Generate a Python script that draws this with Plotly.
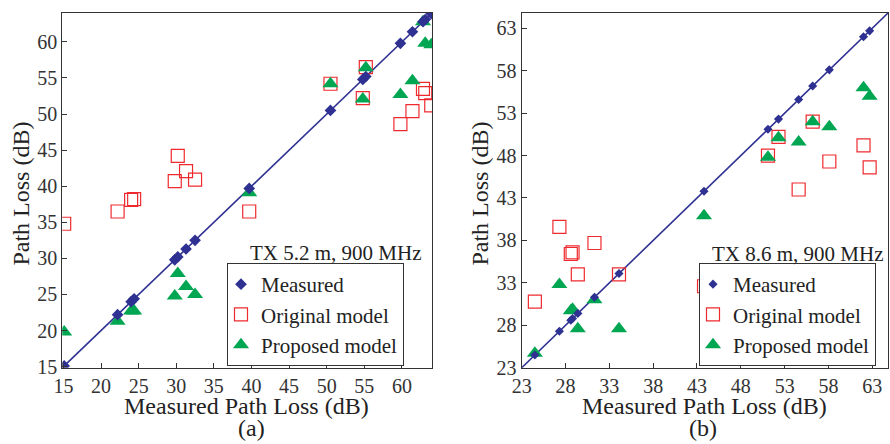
import plotly.graph_objects as go

# ---------------- Data: panel (a) TX 5.2 m ----------------
a_measured = [15.1, 22.2, 24.0, 24.4, 29.8, 30.2, 31.3, 32.5, 39.7, 50.5,
              54.8, 55.2, 59.8, 61.4, 62.8, 63.1, 63.9]
a_original = [34.8, 36.5, 38.1, 38.2, 40.7, 44.2, 42.1, 40.9, 36.5, 54.2,
              52.2, 56.5, 48.6, 50.4, 53.5, 52.9, 51.2]
a_proposed = [19.8, 21.3, 22.7, 22.7, 24.8, 27.9, 26.1, 25.0, 39.1, 54.2,
              52.1, 56.4, 52.7, 54.6, 62.8, 59.8, 59.6]

# ---------------- Data: panel (b) TX 8.6 m ----------------
b_measured = [24.5, 27.3, 28.6, 28.8, 29.4, 31.3, 34.1, 43.8, 51.1, 52.3,
              54.6, 56.2, 58.1, 62.0, 62.7]
b_original = [30.8, 39.6, 36.4, 36.6, 34.0, 37.7, 34.0, 32.6, 48.0, 50.2,
              44.0, 52.0, 47.3, 49.2, 46.6]
b_proposed = [24.7, 32.8, 29.7, 29.9, 27.6, 31.0, 27.6, 40.9, 47.8, 50.1,
              49.6, 52.0, 51.4, 56.0, 55.0]

a_ticks = [15, 20, 25, 30, 35, 40, 45, 50, 55, 60]
b_ticks = [23, 28, 33, 38, 43, 48, 53, 58, 63]
a_range = [14.85, 64.0]
b_range = [23.0, 64.8]

BLUE = "#2e3192"
RED = "#ee2a2e"
GREEN = "#00a651"
FONT = "'Liberation Serif', 'DejaVu Serif', serif"

fig = go.Figure()

# Panel (a)
fig.add_trace(go.Scatter(x=a_measured, y=a_measured, mode="lines",
                         line=dict(color=BLUE, width=1.6), showlegend=False,
                         xaxis="x", yaxis="y", hoverinfo="skip"))
fig.add_trace(go.Scatter(x=a_measured, y=a_original, mode="markers", name="Original model",
                         marker=dict(symbol="square-open", size=13, color=RED, line=dict(width=1.2)),
                         xaxis="x", yaxis="y", legend="legend", legendrank=2))
fig.add_trace(go.Scatter(x=a_measured, y=a_proposed, mode="markers", name="Proposed model",
                         marker=dict(symbol="triangle-up", size=14, color=GREEN),
                         xaxis="x", yaxis="y", legend="legend", legendrank=3))
fig.add_trace(go.Scatter(x=a_measured, y=a_measured, mode="markers", name="Measured",
                         marker=dict(symbol="diamond", size=9, color=BLUE),
                         xaxis="x", yaxis="y", legend="legend", legendrank=1))

# Panel (b)
fig.add_trace(go.Scatter(x=b_range, y=b_range, mode="lines",
                         line=dict(color=BLUE, width=1.6), showlegend=False,
                         xaxis="x2", yaxis="y2", hoverinfo="skip"))
fig.add_trace(go.Scatter(x=b_measured, y=b_original, mode="markers", name="Original model",
                         marker=dict(symbol="square-open", size=13, color=RED, line=dict(width=1.2)),
                         xaxis="x2", yaxis="y2", legend="legend2", legendrank=2))
fig.add_trace(go.Scatter(x=b_measured, y=b_proposed, mode="markers", name="Proposed model",
                         marker=dict(symbol="triangle-up", size=14, color=GREEN),
                         xaxis="x2", yaxis="y2", legend="legend2", legendrank=3))
fig.add_trace(go.Scatter(x=b_measured, y=b_measured, mode="markers", name="Measured",
                         marker=dict(symbol="diamond", size=7, color=BLUE),
                         xaxis="x2", yaxis="y2", legend="legend2", legendrank=1))

axis_common = dict(showgrid=False, zeroline=False, showline=True, linecolor="#333",
                   linewidth=1.2, mirror=True, ticks="inside", ticklen=5, automargin=False,
                   tickcolor="#333", tickfont=dict(family=FONT, size=20, color="#333"))

ydom = [0.1718, 0.9707]
legend_common = dict(bgcolor="white", bordercolor="#333", borderwidth=1,
                     font=dict(family=FONT, size=21, color="#222"),
                     xanchor="left", yanchor="top", itemwidth=30, tracegroupgap=0,
                     traceorder="normal", indentation=-7)

fig.update_layout(
    width=890, height=444, autosize=False,
    margin=dict(l=0, r=0, t=0, b=0, pad=0),
    paper_bgcolor="white", plot_bgcolor="white",
    font=dict(family=FONT),
    xaxis=dict(domain=[0.070, 0.4854], range=a_range, tickvals=a_ticks, anchor="y", **axis_common),
    yaxis=dict(domain=ydom, range=a_range, tickvals=a_ticks, anchor="x", **axis_common),
    xaxis2=dict(domain=[0.5862, 0.9978], range=b_range, tickvals=b_ticks, anchor="y2", **axis_common),
    yaxis2=dict(domain=ydom, range=b_range, tickvals=b_ticks, anchor="x2", **axis_common),
    legend=dict(x=227 / 890, y=1 - 263 / 444, **legend_common),
    legend2=dict(x=699 / 890, y=1 - 263 / 444, **legend_common),
    showlegend=True,
)

ann_font = dict(family=FONT, size=24, color="#222")
anns = [
    dict(text="Measured Path Loss (dB)", x=0.2775, y=1 - 406 / 444, xref="paper", yref="paper",
         showarrow=False, font=ann_font, xanchor="center", yanchor="middle"),
    dict(text="Measured Path Loss (dB)", x=0.7920, y=1 - 406 / 444, xref="paper", yref="paper",
         showarrow=False, font=ann_font, xanchor="center", yanchor="middle"),
    dict(text="(a)", x=0.2828, y=1 - 428 / 444, xref="paper", yref="paper",
         showarrow=False, font=ann_font, xanchor="center", yanchor="middle"),
    dict(text="(b)", x=0.790, y=1 - 428 / 444, xref="paper", yref="paper",
         showarrow=False, font=ann_font, xanchor="center", yanchor="middle"),
    dict(text="Path Loss (dB)", x=21 / 890, y=0.564, xref="paper", yref="paper", textangle=-90,
         showarrow=False, font=ann_font, xanchor="center", yanchor="middle"),
    dict(text="Path Loss (dB)", x=480 / 890, y=0.564, xref="paper", yref="paper", textangle=-90,
         showarrow=False, font=ann_font, xanchor="center", yanchor="middle"),
    dict(text="TX 5.2 m, 900 MHz", x=424 / 890, y=1 - 253 / 444, xref="paper", yref="paper",
         showarrow=False, font=dict(family=FONT, size=21, color="#222"), xanchor="right", yanchor="middle"),
    dict(text="TX 8.6 m, 900 MHz", x=886 / 890, y=1 - 254 / 444, xref="paper", yref="paper",
         showarrow=False, font=dict(family=FONT, size=21, color="#222"), xanchor="right", yanchor="middle"),
]
fig.update_layout(annotations=anns)

fig.write_html("out.html", config={"displayModeBar": False},
               post_script="document.body.style.margin='0px';")
